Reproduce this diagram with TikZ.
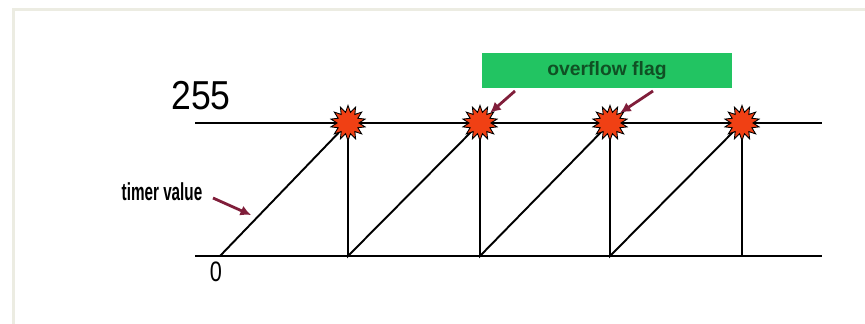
\documentclass[tikz,border=0pt]{standalone}
\usepackage{fontspec}
\setmainfont{Liberation Sans}
\usetikzlibrary{shapes.geometric,arrows.meta}
\definecolor{frame}{RGB}{236,236,226}
\definecolor{burst}{RGB}{240,64,20}
\definecolor{flaggreen}{RGB}{34,196,98}
\definecolor{flagtext}{RGB}{16,80,36}
\definecolor{maroon}{RGB}{128,30,58}
\tikzset{
  axis/.style={line width=1.1pt},
  ramp/.style={line width=1.1pt},
  pointer/.style={maroon,line width=1.6pt,-{Latex[length=6pt,width=6pt]}},
  overflow/.style={star,star points=14,star point ratio=1.6,minimum size=0.7cm,
    inner sep=0pt,fill=burst,draw=black,line width=0.5pt}
}
\begin{document}
\begin{tikzpicture}[x=0.02cm,y=-0.02cm]
  \useasboundingbox (0,0) rectangle (865,324);
  % light frame
  \draw[frame,line width=2pt] (865,9.5) -- (13.5,9.5) -- (13.5,324);
  % levels
  \coordinate (l0) at (195,256); \coordinate (r0) at (822,256);
  \coordinate (l1) at (195,123); \coordinate (r1) at (822,123);
  \draw[axis] (l1) -- (r1);
  \draw[axis] (l0) -- (r0);
  \node[font=\fontsize{23}{25}\selectfont,xscale=0.88] (top) at (201,96) {255};
  \node[font=\fontsize{16}{18}\selectfont,xscale=0.77] (zero) at (216,272) {0};
  % saw tooth
  \coordinate (b0) at (220,256);
  \foreach \i/\x in {1/348,2/480,3/610,4/742} {
    \coordinate (t\i) at (\x,123);
    \coordinate (b\i) at (\x,256);
  }
  \draw[ramp] (b0) -- (t1) -- (b1) -- (t2) -- (b2) -- (t3) -- (b3) -- (t4) -- (b4);
  \foreach \i in {1,...,4}
    \node[overflow] (s\i) at (t\i) {};
  % labels
  \node[font=\bfseries\fontsize{14}{16}\selectfont,xscale=0.62] (timer) at (162,192) {timer value};
  \coordinate (timerhead) at (251,215);
  \draw[pointer] (213,198) -- (timerhead);
  \node[fill=flaggreen,minimum width=5cm,minimum height=0.7cm,inner sep=0pt,
    text=flagtext,font=\bfseries\fontsize{11}{13}\selectfont] (flag) at (607,70.5) {overflow flag};
  \coordinate (f1) at (515,91); \coordinate (f2) at (653,91);
  \draw[pointer] (f1) -- (s2.north east);
  \draw[pointer] (f2) -- (s3.north east);
\end{tikzpicture}
\end{document}
